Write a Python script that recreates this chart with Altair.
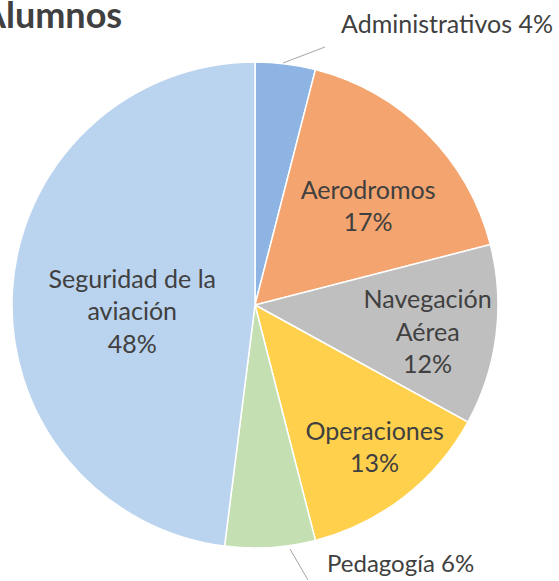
import altair as alt
import pandas as pd

categories = ["Administrativos", "Aerodromos", "Navegación Aérea", "Operaciones", "Pedagogía", "Seguridad de la aviación"]
values = [4, 17, 12, 13, 6, 48]
colors = ["#8DB4E2", "#F4A46E", "#BFBFBF", "#FFD04C", "#C4DFB2", "#BAD3EE"]
inside_text = ["", "Aerodromos\n17%", "Navegación\nAérea\n12%", "Operaciones\n13%", "", "Seguridad de la\naviación\n48%"]

df = pd.DataFrame({
    "cat": categories,
    "val": values,
    "idx": list(range(len(categories))),
    "txt": inside_text,
})

CX, CY, R = 255, 305, 243
FONT = "Lato"
FS = 25
LH = 32.5
TXT = "#404040"

tscale = alt.Scale(domain=[0, 100], range=[0, 6.283185307179586])
color = alt.Color("cat:N", scale=alt.Scale(domain=categories, range=colors), legend=None)

base = alt.Chart(df)

pie = base.mark_arc(outerRadius=R, stroke="white", strokeWidth=1.5).encode(
    theta=alt.Theta("val:Q", stack=True, scale=tscale),
    color=color,
    order=alt.Order("idx:Q", sort="ascending"),
    x=alt.value(CX), y=alt.value(CY),
)

mids = base.transform_window(
    cum="sum(val)", sort=[alt.SortField("idx", order="ascending")], frame=[None, 0]
).transform_calculate(mid="datum.cum - datum.val / 2")


def inside_label(cat, radius, dx, dy):
    return mids.transform_filter(alt.datum.cat == cat).mark_text(
        lineBreak="\n", font=FONT, fontSize=FS, color=TXT, lineHeight=LH, dx=dx, dy=dy
    ).encode(
        theta=alt.Theta("mid:Q", stack=None, scale=tscale),
        radius=alt.value(radius),
        text="txt:N",
        x=alt.value(CX), y=alt.value(CY),
    )


lab_aer = inside_label("Aerodromos", 150, 7, -8)
lab_nav = inside_label("Navegación Aérea", 174, 0, -26.5)
lab_ope = inside_label("Operaciones", 187, 5, -21)
lab_seg = inside_label("Seguridad de la aviación", 123, 0, -17.5)

text_adm = base.transform_filter("datum.idx == 0").mark_text(
    font=FONT, fontSize=FS, color=TXT, align="right"
).encode(
    text=alt.value("Administrativos 4%"),
    x=alt.value(553), y=alt.value(25),
)

text_ped = base.transform_filter("datum.idx == 4").mark_text(
    font=FONT, fontSize=24, color=TXT, align="left"
).encode(
    text=alt.value("Pedagogía 6%"),
    x=alt.value(327), y=alt.value(565),
)

lead1 = base.transform_filter("datum.idx == 0").mark_rule(color="#A6A6A6", strokeWidth=1).encode(
    x=alt.value(283), y=alt.value(63), x2=alt.value(325), y2=alt.value(47)
)
lead2 = base.transform_filter("datum.idx == 4").mark_rule(color="#A6A6A6", strokeWidth=1).encode(
    x=alt.value(290), y=alt.value(549), x2=alt.value(308), y2=alt.value(580)
)

title = base.transform_filter("datum.idx == 0").mark_text(
    font=FONT, fontSize=36, fontWeight="bold", color=TXT, align="left", baseline="alphabetic"
).encode(text=alt.value("Alumnos"), x=alt.value(-19), y=alt.value(28))

chart = alt.layer(
    pie, lead1, lead2, lab_aer, lab_nav, lab_ope, lab_seg, text_adm, text_ped, title
).properties(
    width=559, height=581, padding=0, autosize=alt.AutoSizeParams(type="none")
).configure_view(stroke=None)

chart.save("out.html", embed_options={"renderer": "svg", "actions": False})
